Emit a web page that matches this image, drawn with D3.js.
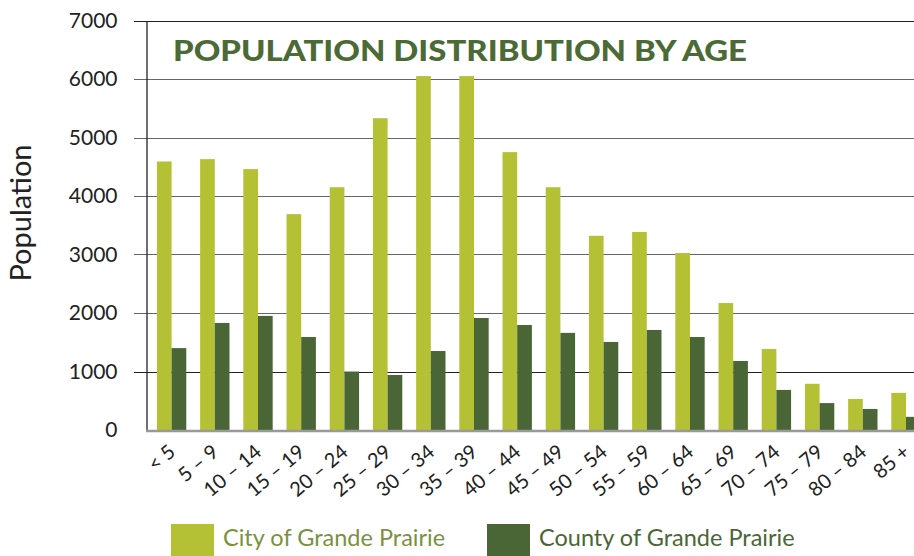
<!DOCTYPE html>
<html>
<head>
<meta charset="utf-8">
<script src="https://cdn.jsdelivr.net/npm/d3@7"></script>
<style>
  body { margin: 0; background: #fff; }
  svg { display: block; font-family: Lato, "Open Sans", sans-serif; }
</style>
</head>
<body>
<div id="chart"></div>
<script>
var ageGroups = ["< 5", "5 – 9", "10 – 14", "15 – 19", "20 – 24", "25 – 29", "30 – 34", "35 – 39",
  "40 – 44", "45 – 49", "50 – 54", "55 – 59", "60 – 64", "65 – 69", "70 – 74", "75 – 79", "80 – 84", "85 +"];
var cityValues = [4590, 4630, 4460, 3690, 4150, 5330, 6050, 6050, 4750, 4150, 3320, 3385, 3025, 2170, 1385, 790, 530, 635];
var countyValues = [1400, 1830, 1950, 1590, 1000, 940, 1350, 1915, 1795, 1660, 1505, 1710, 1590, 1180, 685, 460, 360, 225];
var seriesNames = ["City of Grande Prairie", "County of Grande Prairie"];
var yTicks = [0, 1000, 2000, 3000, 4000, 5000, 6000, 7000];

var width = 914;
var height = 556;
var lightGreen = "#b5c135";
var darkGreen = "#4b6636";

var svg = d3.select("#chart").append("svg")
    .attr("width", width)
    .attr("height", height);

// scales
var x = d3.scaleBand()
    .domain(ageGroups)
    .range([150, 150 + 18 * 43.2])
    .paddingInner(0.32)
    .paddingOuter(0.16);

var xSub = d3.scaleBand()
    .domain([0, 1])
    .range([0, x.bandwidth()]);

var y = d3.scaleLinear()
    .domain([0, 7000])
    .range([430, 20.5]);

// gridlines
svg.append("g")
    .selectAll("line")
    .data(yTicks.filter(function(d) { return d > 0; }))
    .enter()
    .append("line")
        .attr("x1", 134)
        .attr("x2", width)
        .attr("y1", function(d) { return Math.round(y(d)) + 0.5; })
        .attr("y2", function(d) { return Math.round(y(d)) + 0.5; })
        .attr("stroke", function(d) { return d == 7000 || d == 1000 ? "#222" : "#666"; })
        .attr("stroke-width", 1.2);

// y axis
var yAxis = svg.append("g")
    .attr("transform", "translate(146.5,0)")
    .call(d3.axisLeft(y).tickValues(yTicks).tickFormat(d3.format("d")).tickSize(0).tickPadding(29));
yAxis.select(".domain").attr("stroke", "#222").attr("stroke-width", 1.3);
yAxis.selectAll("text")
    .attr("fill", "#222")
    .style("font-size", "21px")
    .style("font-family", "Lato, sans-serif");

// bars
var groups = svg.append("g")
    .selectAll("g")
    .data(ageGroups)
    .enter()
    .append("g")
        .attr("transform", function(d) { return "translate(" + x(d) + ",0)"; });

groups.append("rect")
    .attr("x", xSub(0))
    .attr("width", xSub.bandwidth())
    .attr("y", function(d, i) { return y(cityValues[i]); })
    .attr("height", function(d, i) { return y(0) - y(cityValues[i]); })
    .attr("fill", lightGreen);

groups.append("rect")
    .attr("x", xSub(1))
    .attr("width", xSub.bandwidth())
    .attr("y", function(d, i) { return y(countyValues[i]); })
    .attr("height", function(d, i) { return y(0) - y(countyValues[i]); })
    .attr("fill", darkGreen);

// baseline
svg.append("line")
    .attr("x1", 146)
    .attr("x2", width)
    .attr("y1", y(0) + 1)
    .attr("y2", y(0) + 1)
    .attr("stroke", "#999")
    .attr("stroke-width", 2.5);

// x labels
svg.append("g")
    .selectAll("text")
    .data(ageGroups)
    .enter()
    .append("text")
        .attr("transform", function(d) {
            return "translate(" + (x(d) + x.bandwidth() / 2 + 5) + ",454) rotate(-40)";
        })
        .attr("text-anchor", "end")
        .attr("fill", "#222")
        .style("font-size", "20px")
        .text(function(d) { return d; });

// title
svg.append("text")
    .attr("x", 173)
    .attr("y", 61)
    .attr("fill", "#4c6a35")
    .attr("textLength", 574)
    .attr("lengthAdjust", "spacingAndGlyphs")
    .style("font-size", "29px")
    .style("font-weight", "900")
    .text("POPULATION DISTRIBUTION BY AGE");

// y axis title
svg.append("text")
    .attr("transform", "translate(31,213) rotate(-90)")
    .attr("text-anchor", "middle")
    .attr("fill", "#222")
    .style("font-size", "29px")
    .text("Population");

// legend
var legendX = [171, 487];
var legendColors = [lightGreen, darkGreen];
var legendText = ["#7a9140", darkGreen];
var legend = svg.append("g")
    .selectAll("g")
    .data(seriesNames)
    .enter()
    .append("g")
        .attr("transform", function(d, i) { return "translate(" + legendX[i] + ",524)"; });
legend.append("rect")
    .attr("width", 43)
    .attr("height", 34)
    .attr("fill", function(d, i) { return legendColors[i]; });
legend.append("text")
    .attr("x", 52)
    .attr("y", 22)
    .attr("fill", function(d, i) { return legendText[i]; })
    .style("font-size", "23.5px")
    .text(function(d) { return d; });
</script>
</body>
</html>
